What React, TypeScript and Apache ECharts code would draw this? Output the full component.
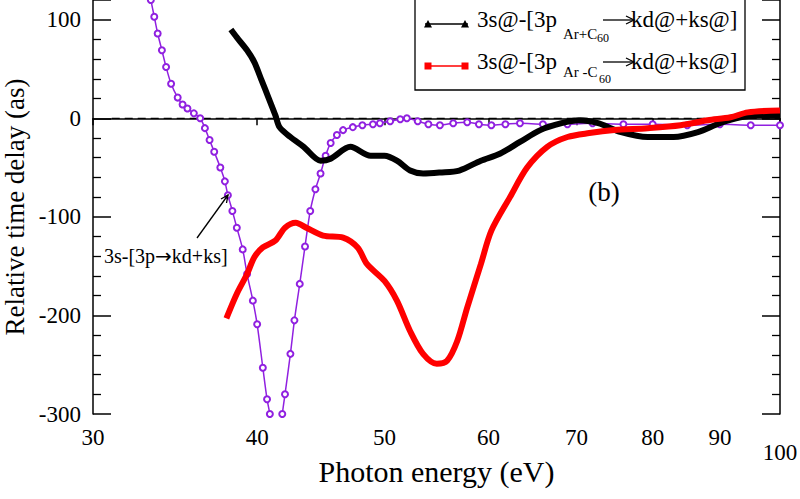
import React, { useEffect, useRef } from "react";
import * as echarts from "echarts";

// Photon energy (eV) / relative time delay (as)
const purpleX = [33.0, 33.2, 33.4, 33.6, 33.85, 34.1, 34.4, 34.8, 35.1, 35.4, 35.8, 36.2, 36.5, 36.8, 37.1, 37.5, 37.8, 38.0, 38.3, 38.6, 39.0, 39.3, 39.7, 40.0, 40.4, 40.7, 40.9, 41.4, 41.8, 42.0, 42.4, 42.7, 43.1, 43.5, 43.9, 44.3, 44.7, 45.1, 45.5, 46.0, 46.5, 47.3, 48.1, 49.0, 49.6, 50.5, 51.4, 52.0, 53.0, 54.0, 55.1, 56.4, 57.8, 59.0, 60.3, 61.8, 63.4, 66.0, 68.9, 72, 76, 80, 85, 90, 95, 100];
const purpleY = [137, 120, 103, 86, 69, 52, 35, 21, 14, 10, 5, 0, -10, -22, -34, -50, -64, -78, -94, -111, -133, -158, -185, -209, -253, -285, -300, -345, -300, -280, -239, -205, -168, -130, -94, -72, -56, -38, -25, -17, -12, -9, -7, -6, -5, -3, -1, 0, -3, -6, -7, -5, -4, -6, -7, -6, -5, -6, -6, -5, -6, -6, -7, -6, -7, -7];

const blackX = [38.2, 38.6, 39.3, 39.8, 40.3, 40.8, 41.3, 41.6, 42.4, 43.4, 44.7, 45.5, 47.1, 48.8, 50.0, 51.1, 52.3, 53.5, 55.1, 57.0, 59.2, 61.2, 63.4, 65.7, 68.2, 70.3, 72.7, 75.7, 79.3, 83.0, 86.6, 90.0, 93.3, 96.5, 100];
const blackY = [90, 82, 69, 57, 39, 21, 3, -9, -19, -29, -43, -41, -29, -38, -38, -43, -53, -56, -55, -53, -43, -36, -24, -12, -5, -2, -5, -14, -19, -19, -14, -5, 1, 3, 3];

const redX = [37.9, 38.6, 39.3, 39.8, 40.4, 41.3, 42.0, 42.8, 43.6, 44.9, 46.5, 47.7, 48.5, 50.0, 51.1, 52.3, 53.5, 54.8, 55.8, 56.8, 57.8, 59.2, 60.3, 62.3, 64.2, 66.5, 68.9, 71.6, 74.8, 79.3, 84.0, 88.1, 91.7, 94.5, 100];
const redY = [-203, -178, -158, -141, -131, -124, -111, -106, -111, -119, -121, -131, -148, -165, -185, -216, -239, -249, -246, -226, -192, -148, -114, -80, -50, -29, -19, -15, -12, -10, -7, -2, 1, 6, 8];

const zeroX = [31, 100];
const zeroY = [0, 0];

const xTicks = [30, 40, 50, 60, 70, 80, 90, 100];

const pairs = (xs: number[], ys: number[]) => xs.map((x, i) => [x, ys[i]]);

const SERIF = "Liberation Serif";
const PURPLE = "#9020e0";

export default function App() {
  const ref = useRef<HTMLDivElement>(null);
  useEffect(() => {
    if (!ref.current) return;
    const chart = echarts.init(ref.current, null, { renderer: "svg" });
    const legendText = (x: number, y: number, text: string, size: number) => ({
      type: "text",
      x,
      y,
      z: 101,
      style: { text, fontSize: size, fontFamily: SERIF, fill: "#000", verticalAlign: "middle", align: "left" },
    });
    const tri = (cx: number, cy: number) => ({
      type: "polygon",
      z: 101,
      shape: { points: [[cx - 4, cy + 3.5], [cx + 4, cy + 3.5], [cx, cy - 4]] },
      style: { fill: "#000" },
    });
    const sq = (cx: number, cy: number) => ({
      type: "rect",
      z: 101,
      shape: { x: cx - 3.5, y: cy - 3.5, width: 7, height: 7 },
      style: { fill: "#ff0000" },
    });
    const arrowTo = (x1: number, x2: number, y: number) => [
      { type: "line", z: 101, shape: { x1, y1: y, x2, y2: y }, style: { stroke: "#000", lineWidth: 1.3 } },
      { type: "polyline", z: 101, shape: { points: [[x2 - 8, y - 4], [x2, y], [x2 - 8, y + 4]] }, style: { stroke: "#000", lineWidth: 1.3, fill: null } },
    ];
    const option: any = {
      animation: false,
      backgroundColor: "#fff",
      textStyle: { fontFamily: SERIF },
      grid: { left: 93, right: 20, top: 0, bottom: 85, containLabel: false, outerBoundsMode: "none" },
      xAxis: {
        type: "log",
        logBase: 10,
        min: 30,
        max: 100,
        name: "Photon energy (eV)",
        nameLocation: "middle",
        nameGap: 42,
        nameMoveOverlap: false,
        nameTextStyle: { fontSize: 30, fontFamily: SERIF, color: "#000" },
        axisLine: { show: true, lineStyle: { color: "#000", width: 1.5 } },
        axisTick: { show: true, inside: false, length: 7, customValues: xTicks, lineStyle: { color: "#000", width: 1.5 } },
        axisLabel: {
          customValues: xTicks,
          fontSize: 23,
          fontFamily: SERIF,
          color: "#000",
          margin: 12,
          formatter: (v: number) => (Math.round(v) === 100 ? "{l|100}" : String(Math.round(v))),
          rich: { l: { fontSize: 23, fontFamily: SERIF, color: "#000", padding: [15, 0, 0, 0] } },
        },
        splitLine: { show: false },
        minorTick: { show: false },
      },
      yAxis: [
        {
          type: "value",
          min: -300,
          max: 120,
          interval: 100,
          name: "Relative time delay (as)",
          nameLocation: "middle",
          nameGap: 64,
          nameMoveOverlap: false,
          nameTextStyle: { fontSize: 27, lineHeight: 28, fontFamily: SERIF, color: "#000" },
          axisLine: { show: true, lineStyle: { color: "#000", width: 1.5 } },
          axisTick: { show: true, inside: true, length: 18, lineStyle: { color: "#000", width: 1.5 } },
          minorTick: { show: true, splitNumber: 5, length: 8, lineStyle: { color: "#000", width: 1.3 } },
          axisLabel: { fontSize: 23, fontFamily: SERIF, color: "#000", margin: 12 },
          splitLine: { show: false },
        },
        {
          type: "value",
          position: "right",
          min: -300,
          max: 120,
          interval: 100,
          axisLine: { show: true, lineStyle: { color: "#000", width: 1.5 } },
          axisTick: { show: true, inside: true, length: 18, lineStyle: { color: "#000", width: 1.5 } },
          minorTick: { show: true, splitNumber: 5, length: 8, lineStyle: { color: "#000", width: 1.3 } },
          axisLabel: { show: false },
          splitLine: { show: false },
        },
      ],
      series: [
        {
          type: "line",
          name: "zero",
          data: pairs(zeroX, zeroY),
          symbol: "none",
          lineStyle: { color: "#000", width: 1.3, type: [8, 5] },
          z: 1,
        },
        {
          type: "line",
          name: "3s-[3p→kd+ks]",
          data: pairs(purpleX, purpleY),
          symbol: "emptyCircle",
          symbolSize: 6,
          showAllSymbol: true,
          itemStyle: { color: PURPLE, borderColor: PURPLE, borderWidth: 1.3 },
          lineStyle: { color: PURPLE, width: 1.5 },
          smooth: 0.3,
          z: 2,
        },
        {
          type: "line",
          name: "3s@-[3p Ar+C60 → kd@+ks@]",
          data: pairs(blackX, blackY),
          symbol: "none",
          smooth: 0.3,
          lineStyle: { color: "#000", width: 6 },
          z: 3,
        },
        {
          type: "line",
          name: "3s@-[3p Ar-C60 → kd@+ks@]",
          data: pairs(redX, redY),
          symbol: "none",
          smooth: 0.3,
          lineStyle: { color: "#ff0000", width: 6 },
          z: 4,
        },
      ],
      graphic: [
        // legend box
        { type: "rect", z: 100, shape: { x: 415, y: -2, width: 330, height: 92 }, style: { fill: "#fff", stroke: "#000", lineWidth: 1.3 } },
        { type: "line", z: 101, shape: { x1: 425, y1: 24, x2: 468, y2: 24 }, style: { stroke: "#000", lineWidth: 1.5 } },
        tri(428, 24),
        tri(465, 24),
        legendText(477, 19, "3s@-[3p", 23),
        legendText(563, 34, "Ar+C", 15),
        legendText(597, 38, "60", 12),
        ...arrowTo(603, 634, 20),
        legendText(631, 19, "kd@+ks@]", 23),
        { type: "line", z: 101, shape: { x1: 425, y1: 66, x2: 468, y2: 66 }, style: { stroke: "#ff0000", lineWidth: 1.5 } },
        sq(428, 66),
        sq(465, 66),
        legendText(477, 61, "3s@-[3p", 23),
        legendText(563, 72, "Ar -C", 15),
        legendText(599, 79, "60", 12),
        ...arrowTo(603, 634, 62),
        legendText(631, 61, "kd@+ks@]", 23),
        // annotation
        {
          type: "text",
          x: 104,
          y: 256,
          z: 50,
          style: {
            text: "3s-[3p{a|→}kd+ks]",
            fontSize: 20,
            fontFamily: SERIF,
            fill: "#000",
            verticalAlign: "middle",
            rich: { a: { fontSize: 20, fontFamily: "DejaVu Sans", fill: "#000" } },
          },
        },
        { type: "line", z: 50, shape: { x1: 197, y1: 238, x2: 228, y2: 195 }, style: { stroke: "#000", lineWidth: 1.3 } },
        { type: "polyline", z: 50, shape: { points: [[221, 199], [228, 195], [226.5, 203]] }, style: { stroke: "#000", lineWidth: 1.3, fill: null } },
        { type: "text", x: 604, y: 192, z: 50, style: { text: "(b)", fontSize: 27, fontFamily: SERIF, fill: "#000", align: "center", verticalAlign: "middle" } },
      ],
    };
    chart.setOption(option);
    return () => chart.dispose();
  }, []);
  return <div ref={ref} style={{ width: 800, height: 499, position: "absolute", left: 0, top: 0 }} />;
}
